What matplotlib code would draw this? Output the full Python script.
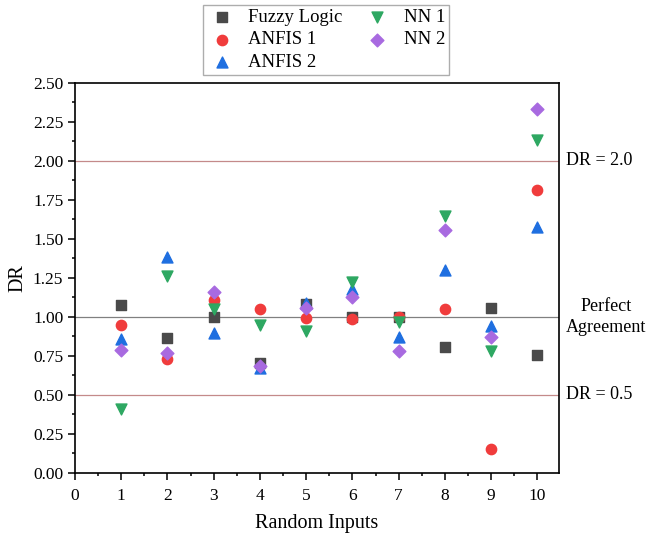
import matplotlib.pyplot as plt
from matplotlib.ticker import MultipleLocator

plt.rcParams['font.family'] = ['Liberation Serif', 'DejaVu Serif']

inputs = [1, 2, 3, 4, 5, 6, 7, 8, 9, 10]
fuzzy = [1.077, 0.865, 1.00, 0.705, 1.08, 1.00, 1.00, 0.805, 1.055, 0.755]
anfis1 = [0.95, 0.73, 1.11, 1.05, 0.99, 0.985, 1.00, 1.05, 0.155, 1.815]
anfis2 = [0.86, 1.385, 0.90, 0.67, 1.09, 1.18, 0.87, 1.30, 0.94, 1.575]
nn1 = [0.41, 1.26, 1.05, 0.95, 0.91, 1.225, 0.965, 1.645, 0.78, 2.135]
nn2 = [0.79, 0.77, 1.16, 0.685, 1.06, 1.13, 0.78, 1.56, 0.87, 2.335]

fig = plt.figure(figsize=(6.47, 5.35), dpi=100)
ax = fig.add_axes([0.116, 0.116, 0.748, 0.729])

# reference lines
ax.axhline(2.0, color='#c48a8a', lw=0.9, zorder=1)
ax.axhline(1.0, color='#808080', lw=0.9, zorder=1)
ax.axhline(0.5, color='#c48a8a', lw=0.9, zorder=1)

ax.scatter(inputs, fuzzy, marker='s', s=45, color='#4a4a4a', label='Fuzzy Logic', zorder=3)
ax.scatter(inputs, anfis1, marker='o', s=55, color='#f03c3c', label='ANFIS 1', zorder=3)
ax.scatter(inputs, anfis2, marker='^', s=62, color='#1f6fe0', label='ANFIS 2', zorder=3)
ax.scatter(inputs, nn1, marker='v', s=62, color='#2ea862', label='NN 1', zorder=3)
ax.scatter(inputs, nn2, marker='D', s=42, color='#a86ae0', label='NN 2', zorder=3)

ax.set_xlim(0, 10.47)
ax.set_ylim(0, 2.5)
ax.xaxis.set_major_locator(MultipleLocator(1))
ax.xaxis.set_minor_locator(MultipleLocator(0.5))
ax.yaxis.set_major_locator(MultipleLocator(0.25))
ax.yaxis.set_minor_locator(MultipleLocator(0.125))
ax.yaxis.set_major_formatter(plt.FormatStrFormatter('%.2f'))
ax.tick_params(which='both', direction='out', top=False, right=False, labelsize=12.5)
ax.tick_params(which='major', length=5, width=1.1)
ax.tick_params(which='minor', length=2.5, width=1.1)
ax.tick_params(axis='x', pad=6)
for sp in ax.spines.values():
    sp.set_linewidth(1.2)

ax.set_xlabel('Random Inputs', fontsize=14.5, labelpad=7)
ax.set_ylabel('DR', fontsize=14.5)

ax.text(10.62, 2.0, 'DR = 2.0', fontsize=13, va='center', ha='left', clip_on=False)
ax.text(10.62, 1.0, 'Perfect\nAgreement', fontsize=13, va='center', ha='left',
        multialignment='center', linespacing=1.3, clip_on=False)
ax.text(10.62, 0.5, 'DR = 0.5', fontsize=13, va='center', ha='left', clip_on=False)

leg = fig.legend(loc='upper center', bbox_to_anchor=(0.504, 0.991), ncol=2, fontsize=13.5,
                 frameon=True, fancybox=False, edgecolor='#999999',
                 handletextpad=0.6, columnspacing=1.05, labelspacing=0.28,
                 borderpad=0.22, handlelength=1.6, borderaxespad=0)
leg.get_frame().set_linewidth(1.0)

fig.savefig('out.png', dpi=100)
